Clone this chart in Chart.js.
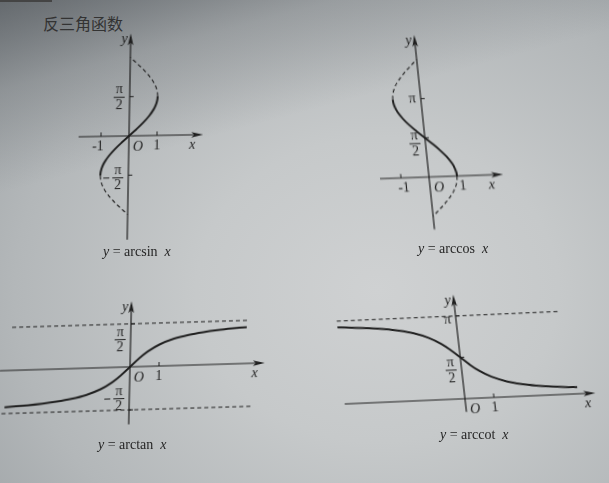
<!DOCTYPE html>
<html>
<head>
<meta charset="utf-8">
<script src="https://cdn.jsdelivr.net/npm/chart.js@4.4.0/dist/chart.umd.min.js"></script>
<style>
  body { margin: 0; }
  #page {
    position: relative; width: 609px; height: 483px; overflow: hidden;
    background:
      linear-gradient(165deg, rgba(70,75,80,0.65) 0%, rgba(70,75,80,0.25) 14%, rgba(70,75,80,0) 30%),
      radial-gradient(ellipse 85% 90% at 62% 60%, #cfd1d2 0%, #c6c9ca 35%, #b3b7b9 70%, #9ca1a4 100%);
    font-family: "Liberation Serif", "DejaVu Serif", serif; color: #262626;
  }
  .box { position: absolute; }
  .cap { position: absolute; font-size: 14px; line-height: 16px; white-space: pre; }
  #title {
    position: absolute; left: 43px; top: 13px; line-height: 20px;
    font-family: "Noto Sans CJK SC", sans-serif; font-size: 16px; color: #333;
  }
  #edge { position: absolute; left: 0; top: 0; width: 52px; height: 2px; background: #444; }
</style>
</head>
<body>
<div id="page">
  <div id="edge"></div>
  <div id="title">反三角函数</div>
  <div class="box" id="bSin"><canvas id="cSin"></canvas></div>
  <div class="box" id="bCos"><canvas id="cCos"></canvas></div>
  <div class="box" id="bTan"><canvas id="cTan"></canvas></div>
  <div class="box" id="bCot"><canvas id="cCot"></canvas></div>
  <div class="cap" style="left:103px;top:244px"><i>y</i> = arcsin  <i>x</i></div>
  <div class="cap" style="left:418px;top:241px"><i>y</i> = arccos  <i>x</i></div>
  <div class="cap" style="left:98px;top:437px"><i>y</i> = arctan  <i>x</i></div>
  <div class="cap" style="left:440px;top:427px"><i>y</i> = arccot  <i>x</i></div>
</div>
<script>
const INK = '#1f1f1f';

// y = arcsin x, solid branch and dashed continuation
const asinX = [-1, -0.99, -0.95, -0.87, -0.71, -0.5, -0.26, 0, 0.26, 0.5, 0.71, 0.87, 0.95, 0.99, 1];
const asinY = [-1.571, -1.429, -1.253, -1.055, -0.790, -0.524, -0.263, 0, 0.263, 0.524, 0.790, 1.055, 1.253, 1.429, 1.571];
const asinTopX = [1, 0.98, 0.913, 0.784, 0.598, 0.382, 0.141, 0];
const asinTopY = [1.571, 1.77, 1.99, 2.24, 2.5, 2.75, 3.0, 3.142];
const asinBotX = [-1, -0.98, -0.913, -0.784, -0.598, -0.382, -0.141, 0];
const asinBotY = [-1.571, -1.77, -1.99, -2.24, -2.5, -2.75, -3.0, -3.142];
const sinTickX = [-1, 1];
const sinTickXLabels = ['-1', '1'];
const sinTickY = [1.571, -1.571];
const sinTickYLabels = ['π/2', '-π/2'];

// y = arccos x
const acosX = [-1, -0.99, -0.95, -0.87, -0.71, -0.5, -0.26, 0, 0.26, 0.5, 0.71, 0.87, 0.95, 0.99, 1];
const acosY = [3.142, 3.0, 2.824, 2.626, 2.36, 2.094, 1.834, 1.571, 1.308, 1.047, 0.781, 0.516, 0.318, 0.142, 0];
const acosTopX = [-1, -0.98, -0.914, -0.79, -0.596, -0.381, -0.141, 0];
const acosTopY = [3.142, 3.34, 3.56, 3.81, 4.07, 4.32, 4.57, 4.712];
const acosBotX = [1, 0.98, 0.913, 0.784, 0.598, 0.381, 0.14, 0];
const acosBotY = [0, -0.2, -0.42, -0.67, -0.93, -1.18, -1.43, -1.571];
const cosTickX = [-1, 1];
const cosTickXLabels = ['-1', '1'];
const cosTickY = [3.142, 1.571];
const cosTickYLabels = ['π', 'π/2'];

// y = arctan x
const atanX = [-4.3, -3.5, -3, -2.5, -2, -1.5, -1, -0.6, -0.3, 0, 0.3, 0.6, 1, 1.5, 2, 2.5, 3, 3.5, 4.0];
const atanY = [-1.342, -1.292, -1.249, -1.190, -1.107, -0.983, -0.785, -0.540, -0.291, 0, 0.291, 0.540, 0.785, 0.983, 1.107, 1.190, 1.249, 1.292, 1.326];
const atanAsymX = [-4.1, 4.1];
const atanAsymTop = [1.571, 1.571];
const atanAsymLowX = [-4.4, 4.2];
const atanAsymLow = [-1.571, -1.571];
const tanTickX = [1];
const tanTickXLabels = ['1'];
const tanTickY = [1.571, -1.571];
const tanTickYLabels = ['π/2', '-π/2'];

// y = arccot x
const acotX = [-4.1, -3.5, -3, -2.5, -2, -1.5, -1, -0.6, -0.3, 0, 0.3, 0.6, 1, 1.5, 2, 2.5, 3, 3.5, 3.9];
const acotY = [2.903, 2.863, 2.820, 2.761, 2.678, 2.554, 2.356, 2.111, 1.862, 1.571, 1.279, 1.030, 0.785, 0.588, 0.464, 0.381, 0.322, 0.278, 0.251];
const acotAsymX = [-4.1, 3.6];
const acotAsymY = [3.142, 3.142];
const cotTickX = [1];
const cotTickXLabels = ['1'];
const cotTickY = [3.142, 1.571];
const cotTickYLabels = ['π', 'π/2'];

const pts = (xs, ys) => xs.map((v, i) => ({x: v, y: ys[i]}));
const solid = (xs, ys) => ({data: pts(xs, ys), showLine: true, borderColor: INK, borderWidth: 2, tension: 0.35, pointRadius: 0});
const dashed = (xs, ys, w) => ({data: pts(xs, ys), showLine: true, borderColor: INK, borderWidth: w || 1.1, borderDash: [4, 3], tension: 0.35, pointRadius: 0});

function label(ctx, text, x, y, align) {
  // fractions like π/2 are drawn stacked, with an optional leading minus
  ctx.textBaseline = 'middle';
  if (text.indexOf('/') < 0) {
    ctx.textAlign = align;
    ctx.fillText(text, x, y);
    return;
  }
  let neg = text[0] === '-';
  const parts = text.replace('-', '').split('/');
  const w = 11;
  let cx = align === 'right' ? x - w / 2 : x;
  ctx.textAlign = 'center';
  ctx.fillText(parts[0], cx, y - 7);
  ctx.fillText(parts[1], cx, y + 8.5);
  ctx.beginPath(); ctx.lineWidth = 1;
  ctx.moveTo(cx - w / 2, y + 0.5); ctx.lineTo(cx + w / 2, y + 0.5); ctx.stroke();
  if (neg) { ctx.beginPath(); ctx.moveTo(cx - w / 2 - 9, y + 0.5); ctx.lineTo(cx - w / 2 - 3, y + 0.5); ctx.stroke(); }
}

const axesPlugin = {
  id: 'axes',
  beforeDatasetsDraw(chart, args, o) {
    const {ctx} = chart;
    const sx = chart.scales.x, sy = chart.scales.y;
    const ox = sx.getPixelForValue(0), oy = sy.getPixelForValue(0);
    ctx.save();
    ctx.strokeStyle = INK; ctx.fillStyle = INK; ctx.lineWidth = 1.2;
    const x0 = sx.getPixelForValue(o.xFrom), x1 = sx.getPixelForValue(o.xTo);
    const y0 = sy.getPixelForValue(o.yFrom), y1 = sy.getPixelForValue(o.yTo);
    ctx.beginPath(); ctx.moveTo(x0, oy); ctx.lineTo(x1 - 4, oy); ctx.moveTo(ox, y0); ctx.lineTo(ox, y1 + 4); ctx.stroke();
    // arrow heads
    ctx.beginPath(); ctx.moveTo(x1, oy); ctx.lineTo(x1 - 12, oy - 2.8); ctx.lineTo(x1 - 9, oy); ctx.lineTo(x1 - 12, oy + 2.8); ctx.closePath(); ctx.fill();
    ctx.beginPath(); ctx.moveTo(ox, y1); ctx.lineTo(ox - 2.8, y1 + 12); ctx.lineTo(ox, y1 + 9); ctx.lineTo(ox + 2.8, y1 + 12); ctx.closePath(); ctx.fill();
    // ticks
    ctx.lineWidth = 1;
    ctx.beginPath();
    o.tickX.forEach(v => { const p = sx.getPixelForValue(v); ctx.moveTo(p, oy); ctx.lineTo(p, oy - 4); });
    o.tickY.forEach(v => { const p = sy.getPixelForValue(v); ctx.moveTo(ox, p); ctx.lineTo(ox + 4, p); });
    ctx.stroke();
    ctx.font = '14px "Liberation Serif", serif';
    o.tickX.forEach((v, i) => {
      const t = o.tickXLabels[i];
      label(ctx, t, sx.getPixelForValue(v) - (t[0] === '-' ? 3 : 0) + (o.xLabelDx || 0), oy + 10, 'center');
    });
    o.tickY.forEach((v, i) => {
      label(ctx, o.tickYLabels[i], ox - 5, sy.getPixelForValue(v) + (o.yLabelDy ? o.yLabelDy[i] : 0), 'right');
    });
    ctx.font = 'italic 14px "Liberation Serif", serif';
    ctx.textAlign = 'left'; ctx.textBaseline = 'middle';
    ctx.fillText('O', ox + 4, oy + 11);
    ctx.fillText('x', sx.getPixelForValue(o.xLabel), oy + 10);
    ctx.textAlign = 'right';
    ctx.fillText('y', ox - 3, y1 + 6);
    ctx.restore();
  }
};

function makeChart(id, boxId, box, origin, unit, transform, datasets, ax) {
  const b = document.getElementById(boxId);
  const c = document.getElementById(id);
  b.style.left = box[0] + 'px'; b.style.top = box[1] + 'px';
  b.style.width = box[2] + 'px'; b.style.height = box[3] + 'px';
  b.style.transformOrigin = (origin[0] - box[0]) + 'px ' + (origin[1] - box[1]) + 'px';
  b.style.transform = transform;
  c.width = box[2]; c.height = box[3];
  return new Chart(c, {
    type: 'scatter',
    data: {datasets: datasets},
    options: {
      responsive: false, animation: false, events: [],
      layout: {padding: 0},
      scales: {
        x: {type: 'linear', display: false, min: -(origin[0] - box[0]) / unit[0], max: (box[0] + box[2] - origin[0]) / unit[0]},
        y: {type: 'linear', display: false, min: -(box[1] + box[3] - origin[1]) / unit[1], max: (origin[1] - box[1]) / unit[1]}
      },
      plugins: {legend: {display: false}, tooltip: {enabled: false}, axes: ax}
    },
    plugins: [axesPlugin]
  });
}

makeChart('cSin', 'bSin', [60, 25, 160, 225], [129, 136], [28, 25], 'rotate(-1deg) skewX(-2deg)',
  [solid(asinX, asinY), dashed(asinTopX, asinTopY), dashed(asinBotX, asinBotY)],
  {xFrom: -1.8, xTo: 2.65, yFrom: -4.15, yTo: 4.1, xLabel: 2.15,
   tickX: sinTickX, tickXLabels: sinTickXLabels, tickY: sinTickY, tickYLabels: sinTickYLabels, yLabelDy: [0, 2]});

makeChart('cCos', 'bCos', [370, 25, 150, 215], [429, 177], [28, 25], 'rotate(-2deg) skewX(4deg)',
  [solid(acosX, acosY), dashed(acosTopX, acosTopY), dashed(acosBotX, acosBotY)],
  {xFrom: -1.75, xTo: 2.65, yFrom: -2.1, yTo: 5.7, xLabel: 2.1, xLabelDx: 5,
   tickX: cosTickX, tickXLabels: cosTickXLabels, tickY: cosTickY, tickYLabels: cosTickYLabels, yLabelDy: [0, 5]});

makeChart('cTan', 'bTan', [0, 290, 280, 145], [130, 367], [29, 27.4], 'rotate(-1.7deg) skewX(-3deg)',
  [solid(atanX, atanY), dashed(atanAsymX, atanAsymTop, 1), dashed(atanAsymLowX, atanAsymLow, 1)],
  {xFrom: -4.5, xTo: 4.65, yFrom: -2.1, yTo: 2.4, xLabel: 4.2,
   tickX: tanTickX, tickXLabels: tanTickXLabels, tickY: tanTickY, tickYLabels: tanTickYLabels, yLabelDy: [15, -12]});

makeChart('cCot', 'bCot', [335, 285, 274, 135], [465, 399], [29, 26.5], 'rotate(-2.5deg) skewX(4deg)',
  [solid(acotX, acotY), dashed(acotAsymX, acotAsymY, 1)],
  {xFrom: -4.15, xTo: 4.5, yFrom: -0.5, yTo: 3.95, xLabel: 4.1,
   tickX: cotTickX, tickXLabels: cotTickXLabels, tickY: cotTickY, tickYLabels: cotTickYLabels, yLabelDy: [4, 12]});
</script>
</body>
</html>
